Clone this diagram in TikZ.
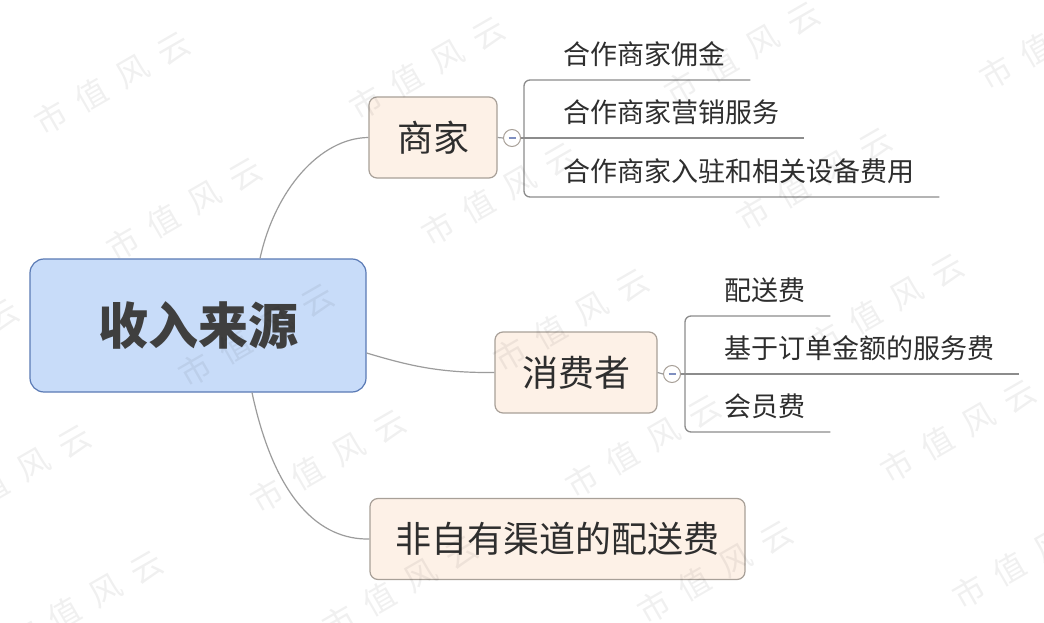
\documentclass[tikz,border=0pt]{standalone}
\usepackage{fontspec}
\setmainfont{Noto Sans CJK SC}
\definecolor{rootfill}{HTML}{C8DCF9}
\definecolor{rootborder}{HTML}{5A7AB5}
\definecolor{roottext}{HTML}{3F3F3F}
\definecolor{topicfill}{HTML}{FDF1E7}
\definecolor{topicborder}{HTML}{A8A098}
\definecolor{textcol}{HTML}{2E2E2E}
\definecolor{conncol}{HTML}{9C9C9C}
\definecolor{leafcol}{HTML}{8C8C8C}
\definecolor{dashcol}{HTML}{7F8FC0}
\begin{document}
\begin{tikzpicture}[x=1pt,y=-1pt,
  rootbox/.style={draw=rootborder, fill=rootfill, rounded corners=14pt, line width=1.2pt,
    minimum width=336pt, minimum height=133pt, inner sep=0pt, text=roottext,
    font=\fontsize{50}{56}\selectfont\bfseries},
  topicbox/.style={draw=topicborder, fill=topicfill, rounded corners=8pt, line width=1.2pt,
    minimum height=81pt, inner sep=0pt, text=textcol, font=\fontsize{36}{40}\selectfont},
  collapse/.style={circle, draw=topicborder, fill=white, minimum size=17pt, inner sep=0pt,
    line width=1pt,
    path picture={\draw[dashcol, line width=1.2pt]
      ([xshift=-3.5pt]path picture bounding box.center) --
      ([xshift=3.5pt]path picture bounding box.center);}},
  leaf/.style={anchor=south west, inner sep=0pt, text height=22pt, text depth=15pt,
    text=textcol, font=\fontsize{27}{30}\selectfont},
  leafline/.style={draw=leafcol, line width=1.3pt},
  conn/.style={draw=conncol, line width=1.2pt},
  wm/.style={rotate=30, text=black, text opacity=0.06, inner sep=0pt, font=\fontsize{32}{32}\selectfont}
]
\useasboundingbox (0,0) rectangle (1044,623);
\fill[white] (0,0) rectangle (1044,623);

% main topics
\node[rootbox] (root) at (198,325.5) {收入来源};
\node[topicbox, minimum width=128pt] (merchant) at (433,137.5) {商家};
\node[topicbox, minimum width=162pt] (consumer) at (576,372.5) {消费者};
\node[topicbox, minimum width=375pt] (other) at (557.5,539) {非自有渠道的配送费};

% connectors from root
\draw[conn] ([xshift=62pt]root.north) .. controls (275,190) and (320,138) .. (merchant.west);
\draw[conn] ([yshift=-27.5pt]root.east) .. controls (410,366) and (440,373) .. (consumer.west);
\draw[conn] ([xshift=54pt]root.south) .. controls (275,500) and (320,540) .. (other.west);

% collapse buttons
\node[collapse] (cm) at (512,138) {};
\node[collapse] (cc) at (672,374) {};
\draw[conn] (merchant.east) -- (cm.west);
\draw[conn] (consumer.east) -- (cc.west);

% merchant leaves
\node[leaf] (l1) at (524,80) {\hspace*{39pt}合作商家佣金\hspace*{25pt}};
\node[leaf] (l2) at (524,138) {\hspace*{39pt}合作商家营销服务\hspace*{25pt}};
\node[leaf] (l3) at (524,197) {\hspace*{39pt}合作商家入驻和相关设备费用\hspace*{25pt}};
\draw[leafline, rounded corners=6pt] (l1.south east) -- (l1.south west) -- (l3.south west) -- (l3.south east);
\draw[leafline] (cm.east) -- (l2.south east);

% consumer leaves
\node[leaf] (l4) at (685,316) {\hspace*{39pt}配送费\hspace*{25pt}};
\node[leaf] (l5) at (685,374) {\hspace*{39pt}基于订单金额的服务费\hspace*{25pt}};
\node[leaf] (l6) at (685,432) {\hspace*{39pt}会员费\hspace*{25pt}};
\draw[leafline, rounded corners=6pt] (l4.south east) -- (l4.south west) -- (l6.south west) -- (l6.south east);
\draw[leafline] (cc.east) -- (l5.south east);

% watermark
\begin{scope}
\clip (0,0) rectangle (1044,623);
\foreach \wx/\wy in {112/83, 427/68, 742/53, 1057/38,
                     184/209, 499/194, 814/179,
                     -59/350, 256/335, 571/320, 886/305,
                     13/476, 328/461, 643/446, 958/431,
                     85/602, 400/587, 715/572, 1030/557}{
  \node[wm] at (\wx,\wy) {市\hspace{15pt}值\hspace{15pt}风\hspace{15pt}云};
}
\end{scope}
\end{tikzpicture}
\end{document}
